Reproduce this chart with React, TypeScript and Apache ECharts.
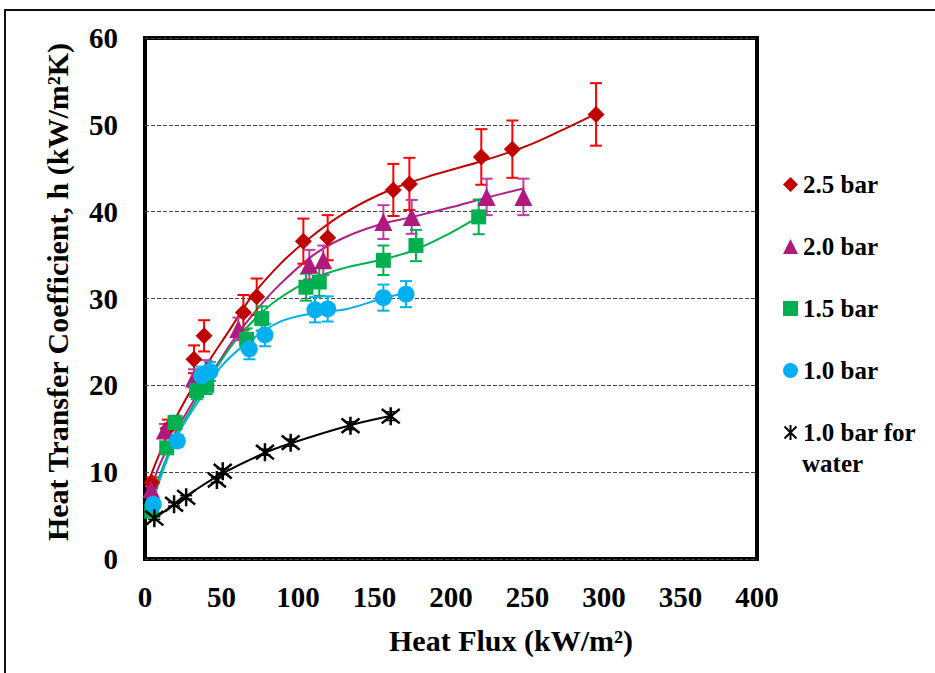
import React, { useEffect, useRef } from "react";
import * as echarts from "echarts";

// ---- data ----
const X25 = [4.5, 15, 32, 38.6, 64.3, 73, 103.5, 119.4, 162.3, 172.8, 219.8, 240.1, 294.8];
const H25 = [8.8, 15.0, 23.0, 25.7, 28.4, 30.2, 36.6, 37.0, 42.5, 43.2, 46.3, 47.2, 51.2];
const E25 = [0.6, 1.05, 1.6, 1.8, 2.0, 2.1, 2.6, 2.6, 3.0, 3.0, 3.2, 3.3, 3.6];

const X20 = [4, 13, 32, 40, 61, 107.4, 116.5, 155.8, 174.3, 223.3, 247.3];
const H20 = [8.0, 14.8, 20.8, 21.8, 26.5, 33.9, 34.4, 38.8, 39.4, 41.7, 41.7];
const E20 = [0.4, 0.75, 1.05, 1.1, 1.3, 1.7, 1.7, 1.95, 1.95, 2.1, 2.1];

const X15 = [4.4, 14.2, 19.6, 33.8, 40.3, 66.4, 76.3, 105.2, 113.9, 155.8, 177.1, 218.1];
const H15 = [5.5, 12.8, 15.7, 19.4, 20.0, 25.3, 27.7, 31.3, 31.9, 34.4, 36.1, 39.4];
const E15 = [0.3, 0.65, 0.8, 1.0, 1.0, 1.25, 1.4, 1.55, 1.6, 1.7, 1.8, 2.0];

const X10 = [5.4, 21.1, 37, 42.5, 68.2, 78.4, 111.1, 119.4, 155.8, 170.6];
const H10 = [6.3, 13.6, 21.1, 21.6, 24.2, 25.8, 28.7, 28.8, 30.1, 30.5];
const E10 = [0.3, 0.7, 1.05, 1.1, 1.2, 1.3, 1.45, 1.45, 1.5, 1.5];

const XW = [6.1, 19, 26.9, 47, 50.8, 78.4, 95.2, 134.3, 160.6];
const HW = [4.7, 6.3, 7.1, 9.1, 10.1, 12.3, 13.4, 15.35, 16.45];
const EW = [0.15, 0.2, 0.2, 0.3, 0.3, 0.35, 0.4, 0.45, 0.5];

// trend lines
const T25X = [1, 8, 16, 26, 40, 55, 70, 88, 105, 130, 160, 190, 220, 250, 275, 295];
const T25Y = [8.3, 11.5, 14.8, 18.2, 22.3, 26.3, 30.3, 33.9, 36.6, 39.8, 42.5, 44.3, 45.8, 47.6, 49.6, 51.3];
const T20X = [2, 10, 20, 32, 45, 58, 72, 88, 110, 130, 155, 175, 200, 225, 248];
const T20Y = [7.3, 11.0, 14.6, 18.3, 21.8, 25.3, 28.5, 31.6, 35.0, 37.0, 38.6, 39.4, 40.5, 41.7, 42.7];
const T15X = [3, 10, 20, 36, 55, 70, 86, 110, 130, 153, 175, 197, 218];
const T15Y = [6.0, 9.8, 14.0, 19.0, 24.2, 27.3, 29.8, 32.3, 33.5, 34.4, 35.5, 37.3, 39.4];
const T10X = [4, 12, 22, 38, 49, 66, 88, 110, 132, 155, 171];
const T10Y = [6.0, 10.3, 14.5, 19.0, 22.0, 24.8, 27.3, 28.3, 28.8, 30.0, 30.7];
const TWX = [5, 20, 30, 50, 78, 95, 134, 161];
const TWY = [4.5, 6.4, 7.6, 9.8, 12.2, 13.3, 15.4, 16.5];

const NAMES = ["2.5 bar", "2.0 bar", "1.5 bar", "1.0 bar", "1.0 bar for water"];
const X_TITLE = "Heat Flux (kW/m²)";
const Y_TITLE = "Heat Transfer Coefficient, h (kW/m²K)";

const FONT = "Liberation Serif";
const STAR = "path://M0,0L16,16M16,0L0,16M8,-2L8,18";

const zip2 = (xs: number[], ys: number[]) => xs.map((x, i) => [x, ys[i]]);
const zip3 = (xs: number[], ys: number[], es: number[]) => xs.map((x, i) => [x, ys[i], es[i]]);

function errSeries(data: number[][], color: string, width = 2) {
  return {
    type: "custom",
    silent: true,
    z: 3,
    data,
    encode: { x: 0, y: 1 },
    renderItem: (params: any, api: any) => {
      const x = api.value(0);
      const y = api.value(1);
      const e = api.value(2);
      const top = api.coord([x, y + e]);
      const bot = api.coord([x, y - e]);
      const c = 6;
      const st = { stroke: color, lineWidth: width };
      return {
        type: "group",
        children: [
          { type: "line", shape: { x1: top[0], y1: top[1], x2: bot[0], y2: bot[1] }, style: st },
          { type: "line", shape: { x1: top[0] - c, y1: top[1], x2: top[0] + c, y2: top[1] }, style: st },
          { type: "line", shape: { x1: bot[0] - c, y1: bot[1], x2: bot[0] + c, y2: bot[1] }, style: st },
        ],
      };
    },
  };
}

function trend(xs: number[], ys: number[], color: string) {
  return {
    type: "line",
    data: zip2(xs, ys),
    smooth: 0.35,
    showSymbol: false,
    silent: true,
    z: 2,
    lineStyle: { color, width: 2 },
  };
}

export default function App() {
  const ref = useRef<HTMLDivElement>(null);
  useEffect(() => {
    if (!ref.current) return;
    const chart = echarts.init(ref.current, undefined, { renderer: "svg" });
    const labelStyle = { fontFamily: FONT, fontWeight: "bold", fontSize: 29, color: "#000" };
    const option: any = {
      animation: false,
      backgroundColor: "#fff",
      grid: { left: 145, top: 38, width: 612, height: 521, show: true, borderColor: "#000", borderWidth: 4, backgroundColor: "transparent" },
      xAxis: {
        type: "value", min: 0, max: 400, interval: 50,
        axisLine: { show: false }, axisTick: { show: false }, splitLine: { show: false },
        axisLabel: { ...labelStyle, margin: 23 },
      },
      yAxis: {
        type: "value", min: 0, max: 60, interval: 10,
        axisLine: { show: false }, axisTick: { show: false },
        splitLine: { show: true, lineStyle: { color: "#444", type: [4, 2], width: 1 } },
        axisLabel: { ...labelStyle, margin: 27 },
      },
      legend: {
        orient: "vertical", left: 783, top: 172, padding: 0, itemWidth: 15, itemHeight: 15, itemGap: 37,
        selectedMode: false,
        textStyle: { fontFamily: FONT, fontWeight: "bold", fontSize: 25, color: "#000", lineHeight: 25 },
        formatter: (n: string) => (n === NAMES[4] ? "1.0 bar for" : n),
        data: [
          { name: NAMES[0], icon: "diamond" },
          { name: NAMES[1], icon: "triangle" },
          { name: NAMES[2], icon: "rect" },
          { name: NAMES[3], icon: "circle" },
          { name: NAMES[4], icon: STAR, itemStyle: { color: "transparent", borderColor: "#000", borderWidth: 2 } },
        ],
      },
      graphic: [
        { type: "rect", shape: { x: 5, y: 10, width: 1200, height: 1200 }, style: { fill: "none", stroke: "#111", lineWidth: 2 }, z: 0 },
        {
          type: "text", x: 511, y: 640,
          style: { text: X_TITLE, fontFamily: FONT, fontWeight: "bold", fontSize: 30, fill: "#000", align: "center", verticalAlign: "middle" },
        },
        {
          type: "text", x: 57, y: 292, rotation: Math.PI / 2,
          style: { text: Y_TITLE, fontFamily: FONT, fontWeight: "bold", fontSize: 30, fill: "#000", align: "center", verticalAlign: "middle" },
        },
        {
          type: "text", x: 802, y: 463,
          style: { text: "water", fontFamily: FONT, fontWeight: "bold", fontSize: 25, fill: "#000", align: "left", verticalAlign: "middle" },
        },
      ],
      series: [
        trend(T25X, T25Y, "#C00000"),
        trend(T20X, T20Y, "#B0208A"),
        trend(T15X, T15Y, "#00B050"),
        trend(T10X, T10Y, "#00B0F0"),
        trend(TWX, TWY, "#000000"),
        errSeries(zip3(X25, H25, E25), "#FF0000"),
        { type: "scatter", name: NAMES[0], data: zip2(X25, H25), symbol: "diamond", symbolSize: 17, z: 4, itemStyle: { color: "#C00000", opacity: 1 } },
        errSeries(zip3(X20, H20, E20), "#C43A9E"),
        { type: "scatter", name: NAMES[1], data: zip2(X20, H20), symbol: "triangle", symbolSize: 18, z: 4, itemStyle: { color: "#AE1A7E", opacity: 1 } },
        errSeries(zip3(X15, H15, E15), "#00B050"),
        { type: "scatter", name: NAMES[2], data: zip2(X15, H15), symbol: "rect", symbolSize: 15, z: 4, itemStyle: { color: "#00B050", opacity: 1 } },
        errSeries(zip3(X10, H10, E10), "#00B0F0"),
        { type: "scatter", name: NAMES[3], data: zip2(X10, H10), symbol: "circle", symbolSize: 17, z: 4, itemStyle: { color: "#00B0F0", opacity: 1 } },
        errSeries(zip3(XW, HW, EW), "#000000", 1.5),
        { type: "scatter", name: NAMES[4], data: zip2(XW, HW), symbol: STAR, symbolSize: 18, z: 4, itemStyle: { color: "transparent", borderColor: "#000", borderWidth: 2.5, opacity: 1 } },
      ],
    };
    chart.setOption(option);
    return () => chart.dispose();
  }, []);
  return <div ref={ref} style={{ position: "fixed", left: 0, top: 0, width: 935, height: 673 }} />;
}
